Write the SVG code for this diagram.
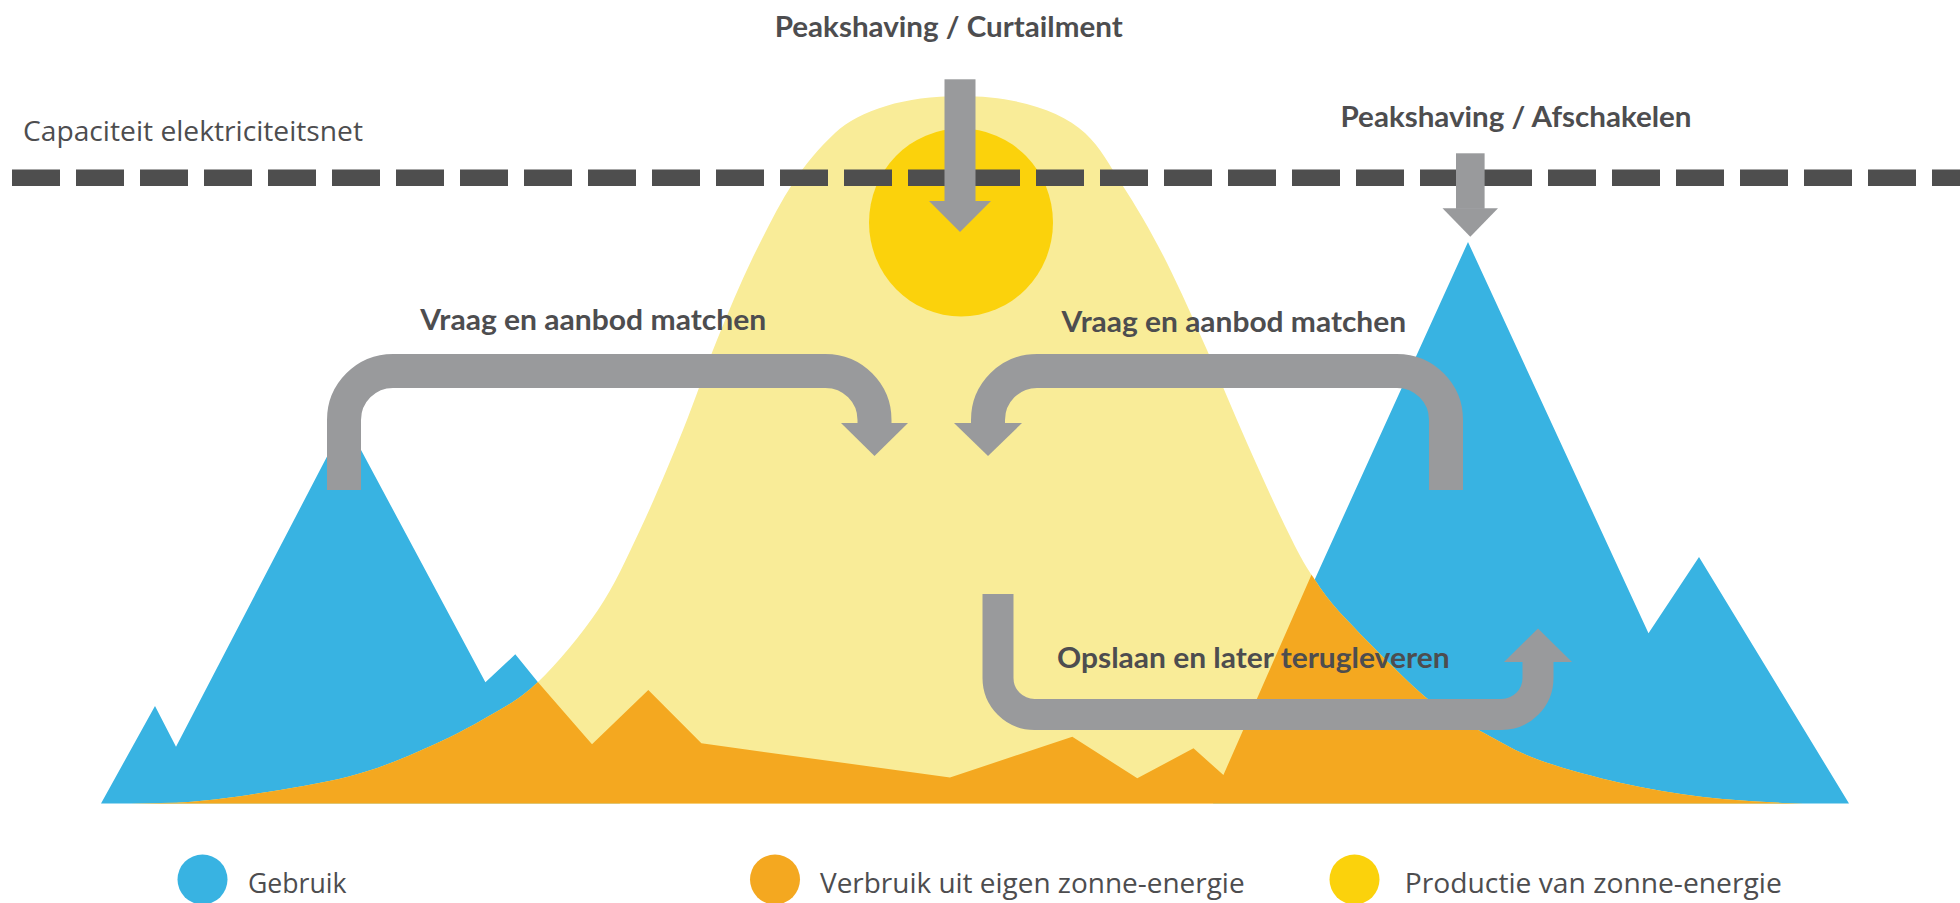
<svg xmlns="http://www.w3.org/2000/svg" width="1960" height="903" viewBox="0 0 1960 903">
  <defs>
    <style>
      .blue { fill: #38B3E2; }
      .bell { fill: #F9EC98; }
      .orange { fill: #F4A820; }
      .sun { fill: #FBD20C; }
      .arrow { fill: none; stroke: #999A9C; stroke-linecap: butt; stroke-linejoin: miter; }
      .head { fill: #999A9C; }
      .bold { font-family: Lato, "Open Sans", "Liberation Sans", sans-serif; font-weight: 700; font-size: 29px; fill: #4D4D4F; }
      .reg { font-family: "Open Sans", "Liberation Sans", sans-serif; font-weight: 400; font-size: 28px; fill: #4D4D4F; }
    </style>
    <path id="bellPath" d="M130,803.5 C150.7,802.9 170.5,803.4 192,801.7 C213.5,800 233,797.5 259,793.3 C285,789.1 322,783.4 348,776.7 C374,770 392.7,762.5 415,753 C437.3,743.6 461.5,731.8 482,720 C502.5,708.2 518.7,700.3 538,682 C557.3,663.7 581,635.3 598,610 C615,584.7 625.8,560 640,530 C654.2,500 670.2,461.7 683,430 C695.8,398.3 705.3,368.8 717,340 C728.7,311.2 740.3,283.2 753,257 C765.5,232 777.7,206.5 793,183 C805,164.6 819,148 835,133 C860,110 905,96 960,96 C1015,96 1060,110 1085,133 C1101,148 1109,164.6 1121,183 C1137.4,208.1 1153.6,236.2 1167,263 C1180.3,289.7 1193.7,320 1207,350 C1220.3,380 1233.7,413 1247,443 C1260.3,473 1276,507.7 1287,530 C1298,552.3 1303,562 1313,577 C1323,592 1327.7,599.5 1347,620 C1366.3,640.5 1406.2,681.2 1429,700 C1451.8,718.8 1465.7,723 1484,733 C1502.3,743 1516.2,751.7 1539,760 C1561.8,768.3 1593.7,776.8 1621,783 C1648.3,789.2 1675.5,793.7 1703,797 C1730.5,800.3 1761.5,801.9 1786,803 C1810.5,803.8 1828.7,803.3 1850,803.5 Z"/>
    <clipPath id="bellClip">
      <use href="#bellPath"/>
    </clipPath>
  </defs>

  <g id="usage-profile">
    <polygon class="blue" points="101,803.5 155,706 176,746.7 345.5,421 485.4,682.3 515.3,654.3 537.6,681.7 600,760 620,803.5"/>
    <polygon class="blue" points="1213,803.5 1468,242 1648.5,633.3 1699,557 1849,803.5"/>
  </g>

  <g id="solar-production">
    <use href="#bellPath" class="bell"/>
    <polygon class="orange" clip-path="url(#bellClip)" points="0,619 483,619 537.6,681.7 592,744.3 648.3,690 701.4,743.3 950,777.5 1072.3,736.7 1137.3,778.3 1193.5,748.3 1223.4,775 1340,510 1960,510 1960,820 0,820"/>
    <ellipse class="sun" cx="961" cy="222.5" rx="92" ry="94"/>
  </g>

  <g id="grid-capacity">
    <line x1="12" y1="177.75" x2="1960" y2="177.75" stroke="#4E4E4E" stroke-width="16.5" stroke-dasharray="48 16"/>
    <text class="reg" x="23" y="141" textLength="340" lengthAdjust="spacingAndGlyphs">Capaciteit elektriciteitsnet</text>
  </g>

  <g id="label-curtailment">
    <text class="bold" x="948.7" y="36.5" text-anchor="middle" textLength="348" lengthAdjust="spacingAndGlyphs">Peakshaving / Curtailment</text>
  </g>
  <g id="label-afschakelen">
    <text class="bold" x="1516" y="126.5" text-anchor="middle" textLength="351" lengthAdjust="spacingAndGlyphs">Peakshaving / Afschakelen</text>
  </g>
  <g id="label-match-left">
    <text class="bold" x="593.2" y="330" text-anchor="middle" textLength="346" lengthAdjust="spacingAndGlyphs">Vraag en aanbod matchen</text>
  </g>
  <g id="label-match-right">
    <text class="bold" x="1233.8" y="332" text-anchor="middle" textLength="344.5" lengthAdjust="spacingAndGlyphs">Vraag en aanbod matchen</text>
  </g>
  <g id="label-storage">
    <text class="bold" x="1253.3" y="668" text-anchor="middle" textLength="392.6" lengthAdjust="spacingAndGlyphs">Opslaan en later terugleveren</text>
  </g>

  <g id="connectors">
    <g id="arrow-curtailment">
      <rect x="944.5" y="79.3" width="31" height="122.5" fill="#999A9C"/>
      <polygon class="head" points="929,201 991,201 960,232"/>
    </g>
    <g id="arrow-afschakelen">
      <rect x="1456" y="153.3" width="28.6" height="55.5" fill="#999A9C"/>
      <polygon class="head" points="1442.5,208.3 1498,208.3 1470.3,236.7"/>
    </g>
    <g id="arrow-match-left">
      <path class="arrow" stroke-width="34" d="M344,490 V420 A49,49 0 0 1 393,371 H825.5 A49,49 0 0 1 874.5,420 V424"/>
      <polygon class="head" points="841,423 908,423 874.5,456"/>
    </g>
    <g id="arrow-match-right">
      <path class="arrow" stroke-width="34" d="M1446,490 V420 A49,49 0 0 0 1397,371 H1037 A49,49 0 0 0 988,420 V424"/>
      <polygon class="head" points="954,423 1022,423 988,456"/>
    </g>
    <g id="arrow-storage">
      <path class="arrow" stroke-width="31" d="M998,594 V678 A36.5,36.5 0 0 0 1034.5,714.5 H1501.5 A36.5,36.5 0 0 0 1538,678 V661"/>
      <polygon class="head" points="1504,662 1572,662 1538,628.5"/>
    </g>
  </g>

  <g id="legend">
    <g id="legend-gebruik">
      <ellipse class="blue" cx="202.5" cy="879.5" rx="25" ry="25"/>
      <text class="reg" x="248" y="892.7" textLength="98.5" lengthAdjust="spacingAndGlyphs">Gebruik</text>
    </g>
    <g id="legend-verbruik">
      <ellipse class="orange" cx="775" cy="879.5" rx="25" ry="25"/>
      <text class="reg" x="820" y="892.7" textLength="424.6" lengthAdjust="spacingAndGlyphs">Verbruik uit eigen zonne-energie</text>
    </g>
    <g id="legend-productie">
      <ellipse class="sun" cx="1354.5" cy="879.5" rx="25" ry="25"/>
      <text class="reg" x="1404.8" y="892.7" textLength="377" lengthAdjust="spacingAndGlyphs">Productie van zonne-energie</text>
    </g>
  </g>
</svg>
